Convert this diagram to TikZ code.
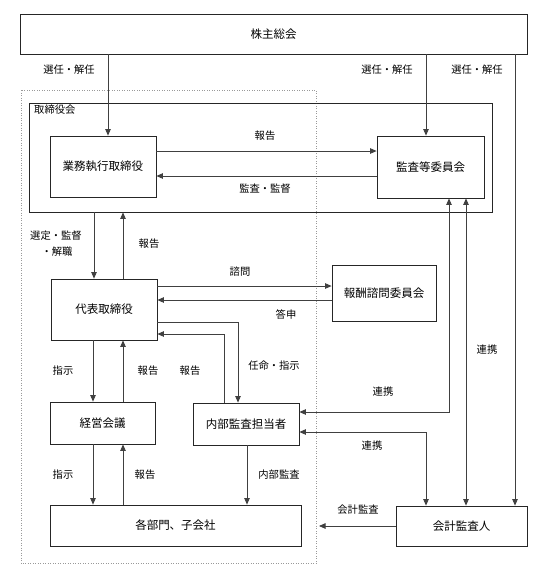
\documentclass[tikz,border=0pt]{standalone}
\usepackage{fontspec}
\newfontfamily\jp{Noto Sans CJK JP}
\usetikzlibrary{arrows.meta}
\begin{document}
\begin{tikzpicture}[x=1pt,y=-1pt,
  box/.style={draw=black!85,line width=0.8pt,rectangle,inner sep=0pt,font=\jp\fontsize{11.5}{12}\selectfont},
  lbl/.style={inner sep=0pt,font=\jp\fontsize{10.3}{11}\selectfont},
  conn/.style={draw=black!75,line width=0.8pt},
  arr/.style={conn,-{Triangle[length=6.5pt,width=5.5pt]}},
  barr/.style={conn,{Triangle[length=6.5pt,width=5.5pt]}-{Triangle[length=6.5pt,width=5.5pt]}}]
\useasboundingbox (0,0) rectangle (554,582);
% dotted frame
\draw[black!40,dotted,line width=0.5pt] (21,90) rectangle (316,563);
% boxes
\node[box,minimum width=507pt,minimum height=40pt] (share) at (273.5,34) {株主総会};
\node[box,minimum width=463pt,minimum height=109pt] (board) at (260.5,157.5) {};
\node[lbl,anchor=west] (boardlbl) at (34,110) {取締役会};
\node[box,fill=white,minimum width=106pt,minimum height=61pt] (exec) at (103,166.5) {業務執行取締役};
\node[box,fill=white,minimum width=107pt,minimum height=62pt] (audit) at (430.5,167) {監査等委員会};
\node[box,minimum width=106pt,minimum height=61pt] (rep) at (104,309.5) {代表取締役};
\node[box,fill=white,minimum width=104pt,minimum height=56pt] (comp) at (384,293) {報酬諮問委員会};
\node[box,minimum width=105pt,minimum height=42pt] (mgmt) at (102.5,423) {経営会議};
\node[box,minimum width=106pt,minimum height=42pt] (internal) at (246,424) {内部監査担当者};
\node[box,minimum width=251pt,minimum height=41pt] (depts) at (175.5,525.5) {各部門、子会社};
\node[box,minimum width=131pt,minimum height=40pt] (auditor) at (461.5,526) {会計監査人};
% helper coordinates
\coordinate (x108) at (108,0);
\coordinate (x426) at (426,0);
\coordinate (x515) at (515,0);
\coordinate (x94) at (94,0);
\coordinate (x93) at (93,0);
\coordinate (x123) at (123,0);
\coordinate (x238) at (238,0);
\coordinate (x224) at (224,0);
\coordinate (x247) at (247,0);
\coordinate (x449) at (449,0);
\coordinate (x466) at (466,0);
\coordinate (y151) at (0,151);
\coordinate (y176) at (0,176);
\coordinate (y286) at (0,286);
\coordinate (y300) at (0,300);
\coordinate (y322) at (0,322);
\coordinate (y334) at (0,334);
\coordinate (y412) at (0,412);
\coordinate (y432) at (0,432);
\coordinate (y526) at (0,526);
\coordinate (aend) at (319,526);
% connectors
\draw[arr] (share.south -| x108) -- (exec.north -| x108);
\draw[arr] (share.south -| x426) -- (audit.north -| x426);
\draw[arr] (share.south -| x515) -- (auditor.north -| x515);
\draw[arr] (exec.east |- y151) -- (audit.west |- y151);
\draw[arr] (audit.west |- y176) -- (exec.east |- y176);
\draw[arr] (board.south -| x94) -- (rep.north -| x94);
\draw[arr] (rep.north -| x123) -- (board.south -| x123);
\draw[arr] (rep.east |- y286) -- (comp.west |- y286);
\draw[arr] (comp.west |- y300) -- (rep.east |- y300);
\draw[arr] (rep.east |- y322) -- (x238 |- y322) -- (internal.north -| x238);
\draw[arr] (internal.north -| x224) -- (x224 |- y334) -- (rep.east |- y334);
\draw[arr] (rep.south -| x93) -- (mgmt.north -| x93);
\draw[arr] (mgmt.north -| x123) -- (rep.south -| x123);
\draw[arr] (mgmt.south -| x93) -- (depts.north -| x93);
\draw[arr] (depts.north -| x123) -- (mgmt.south -| x123);
\draw[arr] (internal.south -| x247) -- (depts.north -| x247);
\draw[barr] (audit.south -| x449) -- (x449 |- y412) -- (internal.east |- y412);
\draw[barr] (audit.south -| x466) -- (auditor.north -| x466);
\draw[barr] (internal.east |- y432) -- (x426 |- y432) -- (auditor.north -| x426);
\draw[arr] (auditor.west |- y526) -- (aend);
% labels
\node[lbl] (l1) at (69,70) {選任・解任};
\node[lbl] (l2) at (387,70) {選任・解任};
\node[lbl] (l3) at (477,70) {選任・解任};
\node[lbl] (l4) at (265,136) {報告};
\node[lbl] (l5) at (265,189) {監査・監督};
\node[lbl] (l6) at (56,236) {選定・監督};
\node[lbl] (l7) at (57,252) {・解職};
\node[lbl] (l8) at (149,244) {報告};
\node[lbl] (l9) at (240,272) {諮問};
\node[lbl] (l10) at (286,315) {答申};
\node[lbl] (l11) at (274,366) {任命・指示};
\node[lbl] (l12) at (63,371) {指示};
\node[lbl] (l13) at (148,371) {報告};
\node[lbl] (l14) at (190,371) {報告};
\node[lbl] (l15) at (487,350) {連携};
\node[lbl] (l16) at (383,392) {連携};
\node[lbl] (l17) at (372,446) {連携};
\node[lbl] (l18) at (63,475) {指示};
\node[lbl] (l19) at (145,475) {報告};
\node[lbl] (l20) at (279,475) {内部監査};
\node[lbl] (l21) at (358,510) {会計監査};
\end{tikzpicture}
\end{document}
